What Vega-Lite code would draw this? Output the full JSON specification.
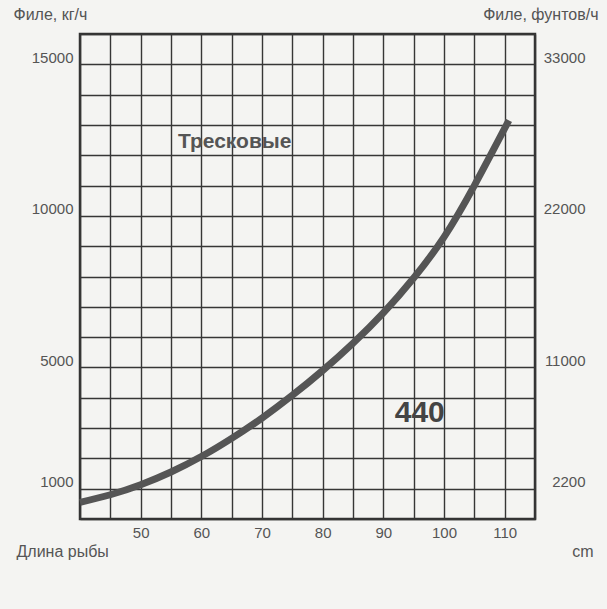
{
  "$schema": "https://vega.github.io/schema/vega-lite/v6.json",
  "width": 455,
  "height": 485,
  "autosize": {"type": "none"},
  "padding": {"left": 80, "top": 34, "right": 72, "bottom": 90},
  "background": "#f4f4f2",
  "config": {
    "view": {"stroke": "#333333", "strokeWidth": 2.5},
    "font": "Liberation Sans",
    "axis": {
      "labelFont": "Liberation Sans",
      "labelFontSize": 15,
      "labelColor": "#555555",
      "titleFont": "Liberation Sans",
      "titleFontSize": 16,
      "titleFontWeight": "normal",
      "titleColor": "#555555",
      "ticks": false,
      "domain": false
    }
  },
  "datasets": {
    "curve": [
      {"length": 40, "fillet": 550},
      {"length": 45, "fillet": 800},
      {"length": 50, "fillet": 1130},
      {"length": 55, "fillet": 1550},
      {"length": 60, "fillet": 2060},
      {"length": 65, "fillet": 2660},
      {"length": 70, "fillet": 3330},
      {"length": 75, "fillet": 4080},
      {"length": 80, "fillet": 4900},
      {"length": 85, "fillet": 5800},
      {"length": 90, "fillet": 6800},
      {"length": 95, "fillet": 7950},
      {"length": 100, "fillet": 9300},
      {"length": 105, "fillet": 11000},
      {"length": 110.7, "fillet": 13150}
    ],
    "notes": [
      {"length": 65.5, "fillet": 12450, "label": "Тресковые", "kind": "species"},
      {"length": 96.0, "fillet": 3500, "label": "440", "kind": "model"}
    ]
  },
  "layer": [
    {
      "data": {"name": "curve"},
      "mark": {"type": "line", "color": "#555555", "strokeWidth": 7, "interpolate": "natural", "strokeCap": "butt"},
      "encoding": {
        "x": {
          "field": "length", "type": "quantitative",
          "scale": {"domain": [40, 115], "nice": false, "zero": false},
          "axis": {
            "orient": "bottom",
            "values": [40, 45, 50, 55, 60, 65, 70, 75, 80, 85, 90, 95, 100, 105, 110, 115],
            "labelExpr": "(datum.value % 10 == 0 && datum.value >= 50) ? datum.label : ''",
            "grid": true, "gridColor": "#363636", "gridWidth": 1.4, "gridOpacity": 1,
            "labelPadding": 6,
            "title": "Длина рыбы",
            "titleAngle": 0, "titleAlign": "left", "titleBaseline": "middle",
            "titleX": -64, "titleY": 32
          }
        },
        "y": {
          "field": "fillet", "type": "quantitative",
          "scale": {"domain": [0, 16000], "nice": false},
          "axis": {
            "orient": "left",
            "values": [0, 1000, 2000, 3000, 4000, 5000, 6000, 7000, 8000, 9000, 10000, 11000, 12000, 13000, 14000, 15000, 16000],
            "format": "d",
            "labelExpr": "indexof([1000, 5000, 10000, 15000], datum.value) >= 0 ? datum.label : ''",
            "labelBaseline": "alphabetic",
            "labelOffset": -2,
            "labelPadding": 7,
            "grid": true, "gridColor": "#363636", "gridWidth": 1.4, "gridOpacity": 1,
            "title": "Филе, кг/ч",
            "titleAngle": 0, "titleAlign": "left", "titleBaseline": "middle",
            "titleX": -67, "titleY": -20
          }
        }
      }
    },
    {
      "data": {"name": "notes"},
      "transform": [{"filter": "datum.kind == 'species'"}],
      "mark": {"type": "text", "fontWeight": "bold", "fontSize": 21, "color": "#555555", "font": "Liberation Sans"},
      "encoding": {
        "x": {
          "field": "length", "type": "quantitative",
          "axis": {
            "orient": "bottom", "labels": false, "grid": false,
            "title": "cm",
            "titleAngle": 0, "titleAlign": "right", "titleBaseline": "middle",
            "titleX": 513, "titleY": 32
          }
        },
        "y": {
          "field": "fillet", "type": "quantitative",
          "axis": {
            "orient": "right",
            "values": [1000, 5000, 10000, 15000],
            "labelExpr": "datum.value == 1000 ? '2200' : datum.value == 5000 ? '11000' : datum.value == 10000 ? '22000' : '33000'",
            "labelAlign": "right",
            "labelBaseline": "alphabetic",
            "labelOffset": -2,
            "labelPadding": 50,
            "grid": false,
            "title": "Филе, фунтов/ч",
            "titleAngle": 0, "titleAlign": "right", "titleBaseline": "middle",
            "titleX": 63, "titleY": -20
          }
        },
        "text": {"field": "label"}
      }
    },
    {
      "data": {"name": "notes"},
      "transform": [{"filter": "datum.kind == 'model'"}],
      "mark": {"type": "text", "fontWeight": "bold", "fontSize": 30, "color": "#444444", "font": "Liberation Sans"},
      "encoding": {
        "x": {"field": "length", "type": "quantitative", "axis": null},
        "y": {"field": "fillet", "type": "quantitative", "axis": null},
        "text": {"field": "label"}
      }
    }
  ],
  "resolve": {"axis": {"x": "independent", "y": "independent"}}
}
